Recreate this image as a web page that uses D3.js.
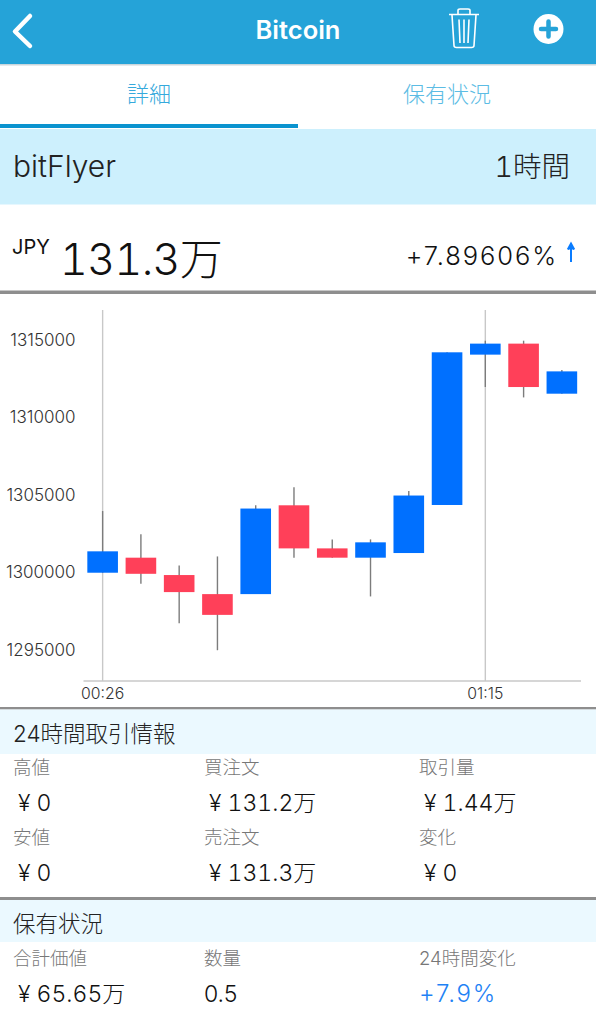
<!DOCTYPE html>
<html><head><meta charset="utf-8">
<script src="https://cdn.jsdelivr.net/npm/d3@7"></script>
<style>html,body{margin:0;padding:0;background:#fff;overflow:hidden}svg{display:block}text{font-family:Inter,"Noto Sans CJK JP","Noto Sans",sans-serif}.tn{font-variant-numeric:tabular-nums}</style>
</head><body><div id="c"></div>
<script>
// Candle data (JPY)
const slots=["c0","c1","c2","c3","c4","c5","c6","c7","c8","c9","c10","c11","c12"];
const opens =[1299960,1300930,1299810,1298580,1298580,1304310,1301530,1300930,1301230,1304330,1314030,1314740,1311510];
const closes=[1301340,1299890,1298710,1297240,1304100,1301530,1300930,1301920,1304940,1314180,1314740,1311940,1312950];
const highs =[1303940,1302440,1300430,1301010,1304310,1305470,1302110,1302110,1305240,1314180,1314930,1314930,1313040];
const lows  =[1299960,1299250,1296700,1294960,1298580,1300930,1300930,1298430,1301230,1304330,1311940,1311270,1311510];
const kinds =["up","down","down","down","up","down","down","up","up","up","up","down","up"];
const yTicks=[1295000,1300000,1305000,1310000,1315000];
const xTickSlots=["c0","c10"];
const xTickLabels=["00:26","01:15"];
const colors={up:"#0070ff",down:"#ff4059"};

const hd1=["高値","買注文","取引量"], vd1=["¥ 0","¥ 131.2万","¥ 1.44万"];
const hd2=["安値","売注文","変化"], vd2=["¥ 0","¥ 131.3万","¥ 0"];
const hd3=["合計価値","数量","24時間変化"], vd3=["¥ 65.65万","0.5","+7.9%"];

const W=596,H=1024;
const svg=d3.select("#c").append("svg").attr("width",W).attr("height",H);
const rect=(x,y,w,h,f)=>svg.append("rect").attr("x",x).attr("y",y).attr("width",w).attr("height",h).attr("fill",f);
const txt=(s,x,y,size,fill,o={})=>svg.append("text").text(s).attr("x",x).attr("y",y).attr("font-size",size).attr("fill",fill)
  .attr("text-anchor",o.a||"start").attr("font-weight",o.w||300).attr("class",o.tn?"tn":null).style("letter-spacing",o.ls?o.ls+"px":null);

// Header
rect(0,0,W,64,"#25a3d8"); rect(0,64,W,1.5,"#c9d6dc");
txt("Bitcoin",298,39,25.5,"#fff",{a:"middle",w:600});
svg.append("path").attr("d","M30 16 L15 31.5 L30 46").attr("fill","none").attr("stroke","#fff").attr("stroke-width",4.5).attr("stroke-linecap","round").attr("stroke-linejoin","round");
const tr=svg.append("g").attr("fill","none").attr("stroke","#fff").attr("stroke-width",1.6);
tr.append("path").attr("d","M449 14.5H479 M458 14V10.5Q458 9 460 9H468Q470 9 470 10.5V14 M452 15L454 45.5Q454 47.5 456.5 47.5H471.5Q474 47.5 474 45.5L476 15 M459 19.5L460 43 M464 19.5V43 M469 19.5L468 43");
svg.append("circle").attr("cx",548.5).attr("cy",29).attr("r",15).attr("fill","#fff");
svg.append("path").attr("d","M548.5 21.5V36.5 M541 29H556").attr("stroke","#25a3d8").attr("stroke-width",4.5).attr("stroke-linecap","round");

// Tabs
txt("詳細",149,102,22,"#35a9dc",{a:"middle"});
txt("保有状況",447,102,22,"#5cbce4",{a:"middle"});
rect(0,124,298,4,"#0a93cf");

// Exchange band
rect(0,129,W,75.5,"#cdf0fd");
txt("bitFlyer",13,177,30,"#222");
txt("1時間",570,177,28.5,"#222",{a:"end",tn:true});

// Price row
txt("JPY",12,254,20,"#111",{w:400});
txt("131.3万",60,275,43,"#111",{tn:true,ls:-0.6});
txt("+7.89606%",558,265,25.5,"#111",{a:"end",ls:1.9});
svg.append("path").attr("d","M571 244.5V262 M567.8 249.5L571 243.5L574.2 249.5").attr("stroke","#0a7cff").attr("stroke-width",2).attr("fill","#0a7cff");
rect(0,290.5,W,3.5,"#8e8e8e");

// Chart
const x=d3.scaleBand().domain(slots).range([83.5,581]).paddingInner(0.2).paddingOuter(0.1);
const y=d3.scaleLinear().domain([1295000,1315000]).range([649.6,339.6]);
const cx=s=>x(s)+x.bandwidth()/2;
const chart=svg.append("g");
chart.selectAll("line.grid").data(xTickSlots).join("line").attr("class","grid")
  .attr("x1",cx).attr("x2",cx).attr("y1",310).attr("y2",681).attr("stroke","#c8c8c8").attr("stroke-width",1.4);
const candles=slots.map((s,i)=>({s,o:opens[i],c:closes[i],h:highs[i],l:lows[i],k:kinds[i]}));
chart.selectAll("line.wick").data(candles).join("line").attr("class","wick")
  .attr("x1",d=>cx(d.s)).attr("x2",d=>cx(d.s)).attr("y1",d=>y(d.h)).attr("y2",d=>y(d.l)).attr("stroke","#7c7c7c").attr("stroke-width",1.4);
chart.selectAll("rect.body").data(candles).join("rect").attr("class","body")
  .attr("x",d=>x(d.s)).attr("width",x.bandwidth())
  .attr("y",d=>y(Math.max(d.o,d.c))).attr("height",d=>Math.abs(y(d.o)-y(d.c)))
  .attr("fill",d=>colors[d.k]);
const gy=chart.append("g").attr("transform","translate(75.5,0)")
  .call(d3.axisLeft(y).tickValues(yTicks).tickSize(0).tickPadding(0).tickFormat(d3.format("d")));
gy.select(".domain").remove();
gy.selectAll("text").attr("font-size",17).attr("fill","#333").attr("font-weight",300).style("font-family","Inter");
const gx=chart.append("g").attr("transform","translate(0,681)")
  .call(d3.axisBottom(x).tickValues(xTickSlots).tickSize(0).tickPadding(7).tickFormat(s=>xTickLabels[xTickSlots.indexOf(s)]));
gx.select(".domain").attr("stroke","#c8c8c8").attr("stroke-width",1.6).attr("d","M83.5 0H581");
gx.selectAll("text").attr("font-size",15.8).attr("fill","#333").attr("font-weight",300).style("font-family","Inter");

// Info panels
const cols=[13,204,419], vcols=[18,209,424];
rect(0,707,W,2.6,"#8e8e8e");
rect(0,709.5,W,44.5,"#ebf9ff");
txt("24時間取引情報",13,742,22.5,"#222");
const row=(heads,vals,yh,yv)=>{
  heads.forEach((t,i)=>txt(t,cols[i],yh,18.5,"#777"));
  vals.forEach((t,i)=>txt(t,vcols[i],yv,23,"#111",{tn:true}));
};
row(hd1,vd1,774,811);
row(hd2,vd2,844,881);
rect(0,897,W,3,"#8e8e8e");
rect(0,900,W,42,"#ebf9ff");
txt("保有状況",13,932,22.5,"#222");
hd3.forEach((t,i)=>txt(t,cols[i],965,18.5,"#777"));
txt(vd3[0],vcols[0],1002,23,"#111",{tn:true});
txt(vd3[1],cols[1],1002,23,"#111");
txt(vd3[2],cols[2],1002,24,"#1e82f5",{ls:1.8});
</script></body></html>
